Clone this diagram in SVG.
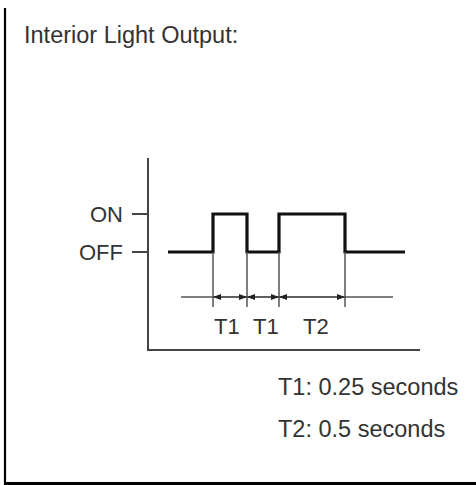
<svg xmlns="http://www.w3.org/2000/svg" width="476" height="485" viewBox="0 0 476 485">
<style>
text{font-family:"Liberation Sans",Arial,sans-serif;fill:#333;}
.t{font-size:22px}
.thin{stroke:#555;stroke-width:1.5;fill:none}
.axis{stroke:#444;stroke-width:2;fill:none}
.sig{stroke:#111;stroke-width:3.2;fill:none;stroke-linejoin:miter}
.frame{stroke:#000;fill:none}
</style>
<defs>
<marker id="ah" viewBox="0 0 8 6" refX="8" refY="3" markerWidth="8" markerHeight="6" markerUnits="userSpaceOnUse" orient="auto-start-reverse">
<path d="M0,0 L8,3 L0,6 Z" fill="#222"/>
</marker>
</defs>
<g id="frame">
<line class="frame" x1="5" y1="8" x2="5" y2="485" stroke-width="2.2"/>
<line class="frame" x1="4" y1="483.5" x2="476" y2="483.5" stroke-width="3"/>
</g>
<g id="title"><text x="24" y="43" font-size="23.5">Interior Light Output:</text></g>
<g id="axes">
<path class="axis" d="M148,158 V350 H420"/>
<line class="axis" x1="132" y1="214" x2="148" y2="214"/>
<line class="axis" x1="132" y1="252" x2="148" y2="252"/>
<text class="t" x="123" y="222" text-anchor="end">ON</text>
<text class="t" x="123" y="260" text-anchor="end">OFF</text>
</g>
<g id="signal">
<path class="sig" d="M168,252 H213 V214 H247 V252 H279 V214 H345 V252 H405"/>
</g>
<g id="connectors">
<line class="thin" x1="213" y1="252" x2="213" y2="307"/>
<line class="thin" x1="247" y1="252" x2="247" y2="307"/>
<line class="thin" x1="279" y1="252" x2="279" y2="307"/>
<line class="thin" x1="345" y1="252" x2="345" y2="307"/>
<line class="thin" x1="181" y1="297" x2="393" y2="297"/>
<line class="thin" x1="213" y1="297" x2="247" y2="297" marker-start="url(#ah)" marker-end="url(#ah)"/>
<line class="thin" x1="247" y1="297" x2="279" y2="297" marker-start="url(#ah)" marker-end="url(#ah)"/>
<line class="thin" x1="279" y1="297" x2="345" y2="297" marker-start="url(#ah)" marker-end="url(#ah)"/>
</g>
<g id="labels">
<text class="t" x="214" y="334">T1</text>
<text class="t" x="253" y="334">T1</text>
<text class="t" x="303" y="334">T2</text>
<text x="278" y="395" font-size="23.5">T1: 0.25 seconds</text>
<text x="278" y="437" font-size="23.5">T2: 0.5 seconds</text>
</g>
</svg>
